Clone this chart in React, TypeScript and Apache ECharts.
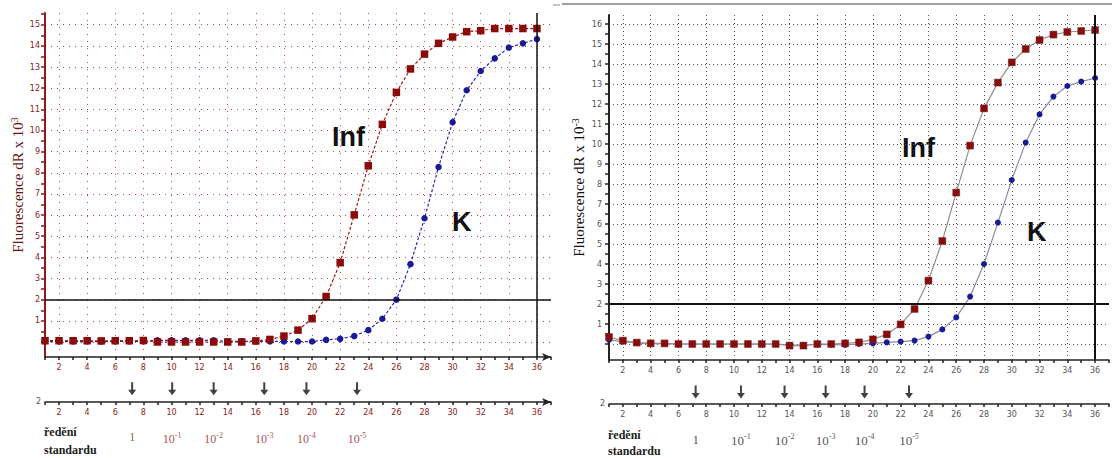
import React, { useEffect, useRef } from "react";
import * as echarts from "echarts";

// ---------- data ----------
const cycles = [1, 2, 3, 4, 5, 6, 7, 8, 9, 10, 11, 12, 13, 14, 15, 16, 17, 18, 19, 20, 21, 22, 23, 24, 25, 26, 27, 28, 29, 30, 31, 32, 33, 34, 35, 36];

const infLeft = [0.06, 0.06, 0.06, 0.06, 0.05, 0.06, 0.06, 0.07, 0, 0, 0, 0, 0, 0, 0, 0.05, 0.12, 0.28, 0.56, 1.1, 2.15, 3.75, 6.01, 8.33, 10.29, 11.8, 12.91, 13.61, 14.12, 14.42, 14.67, 14.72, 14.82, 14.82, 14.82, 14.82];
const kLeft = [0.02, 0.02, 0.02, 0.02, 0.02, 0.03, 0.03, 0.03, 0.08, 0.08, 0.08, 0.08, 0.08, 0.03, 0.03, 0.03, 0.03, 0.02, 0.02, 0.02, 0.1, 0.15, 0.28, 0.56, 1.1, 2.0, 3.68, 5.85, 8.27, 10.39, 11.9, 12.81, 13.41, 13.92, 14.12, 14.32];

const infRight = [0.35, 0.17, 0.07, 0.03, 0.03, 0, 0, 0, 0, 0, 0, 0, 0, -0.08, -0.08, 0, 0, 0.03, 0.08, 0.23, 0.48, 0.98, 1.75, 3.17, 5.15, 7.57, 9.92, 11.78, 13.07, 14.08, 14.75, 15.2, 15.47, 15.6, 15.65, 15.7];
const kRight = [0.2, 0.12, 0.06, 0.02, 0.02, 0, 0, 0, 0, 0, 0, 0, 0, -0.05, -0.05, -0.02, -0.03, -0.05, 0, 0.03, 0.08, 0.12, 0.17, 0.37, 0.73, 1.33, 2.37, 4.0, 6.07, 8.2, 10.07, 11.48, 12.37, 12.9, 13.12, 13.3];

const threshold = 2;
const endCycle = 36;

const dilutionLabels = ["1", "10{s|-1}", "10{s|-2}", "10{s|-3}", "10{s|-4}", "10{s|-5}"];
const dilutionCyclesLeft = [7.2, 10.05, 13.0, 16.6, 19.6, 23.2];
const dilutionCyclesRight = [7.24, 10.5, 13.64, 16.6, 19.4, 22.6];

const yLabelsLeft = [1, 2, 3, 4, 5, 6, 7, 8, 9, 10, 11, 12, 13, 14, 15];
const yLabelsRight = [1, 2, 3, 4, 5, 6, 7, 8, 9, 10, 11, 12, 13, 14, 15, 16];
const yGridLeft = [0, 1, 2, 3, 4, 5, 6, 7, 8, 9, 10, 11, 12, 13, 14, 15];
const yGridRight = [0, 1, 2, 3, 4, 5, 6, 7, 8, 9, 10, 11, 12, 13, 14, 15, 16];
const yHalfTicksLeft = [0, 0.5, 1, 1.5, 2, 2.5, 3, 3.5, 4, 4.5, 5, 5.5, 6, 6.5, 7, 7.5, 8, 8.5, 9, 9.5, 10, 10.5, 11, 11.5, 12, 12.5, 13, 13.5, 14, 14.5, 15, 15.5];
const yHalfTicksRight = [0, 0.5, 1, 1.5, 2, 2.5, 3, 3.5, 4, 4.5, 5, 5.5, 6, 6.5, 7, 7.5, 8, 8.5, 9, 9.5, 10, 10.5, 11, 11.5, 12, 12.5, 13, 13.5, 14, 14.5, 15, 15.5, 16];
const xGridCycles = [2, 4, 6, 8, 10, 12, 14, 16, 18, 20, 22, 24, 26, 28, 30, 32, 34, 36];

// ---------- styles ----------
const LRED = "#8b1a1a";
const INF_COLOR = "#8b0a0a";
const K_COLOR = "#1a1a96";
const ARROW = "path://M3,0 L5,0 L5,8 L8,8 L4,14 L0,8 L3,8 Z";

const pairs = (vals: number[]) => cycles.map((c, i) => [c, vals[i]]);

function mainX(grid: number, color: string, labelColor: string, arrow: boolean) {
  return {
    type: "value",
    gridIndex: grid,
    min: 1,
    max: 37,
    interval: 1,
    position: "bottom",
    axisLine: {
      show: true,
      onZero: false,
      lineStyle: { color, width: 1.5 },
      symbol: arrow ? ["none", "arrow"] : "none",
      symbolSize: [6, 9],
    },
    axisTick: { show: true, length: 3, lineStyle: { color, width: 1.5 } },
    axisLabel: {
      formatter: (v: number) => (v % 2 === 0 && v <= 36 ? String(v) : ""),
      color: labelColor,
      fontSize: 8,
      fontFamily: "DejaVu Sans",
      margin: 6,
    },
    splitLine: { show: false },
  };
}

function gridX(grid: number, color: string, type: any) {
  return {
    type: "value",
    gridIndex: grid,
    min: 1,
    max: 37,
    position: "bottom",
    axisLine: { show: false, onZero: false },
    axisTick: { show: false, customValues: xGridCycles },
    axisLabel: { show: false },
    splitLine: { show: true, lineStyle: { color, width: 1, type } },
  };
}

function gridY(grid: number, min: number, max: number, vals: number[], color: string, type: any) {
  return {
    type: "value",
    gridIndex: grid,
    min,
    max,
    position: "left",
    axisLine: { show: false, onZero: false },
    axisTick: { show: false, customValues: vals },
    axisLabel: { show: false },
    splitLine: { show: true, lineStyle: { color, width: 1, type } },
  };
}

function markLines(width: number) {
  return {
    silent: true,
    symbol: "none",
    animation: false,
    label: { show: false },
    lineStyle: { color: "#111", width, type: "solid" },
    data: [{ yAxis: threshold }, { xAxis: endCycle }],
  };
}

function arrowSeries(xi: number, yi: number, xs: number[], color: string, fontSize: number, distance: number) {
  return {
    type: "scatter",
    xAxisIndex: xi,
    yAxisIndex: yi,
    symbol: ARROW,
    symbolSize: [8, 13],
    itemStyle: { color: "#111" },
    data: xs.map((x) => [x, 0.6]),
    label: {
      show: true,
      position: "bottom",
      distance,
      formatter: (p: any) => dilutionLabels[p.dataIndex],
      fontFamily: "Liberation Serif",
      fontSize,
      color,
      rich: {
        s: { fontSize: 8, color, padding: [0, 0, 8, 0], fontFamily: "Liberation Serif" },
      },
    },
    labelLayout: { hideOverlap: false },
    silent: true,
  };
}

export default function App() {
  const ref = useRef<HTMLDivElement>(null);
  useEffect(() => {
    if (!ref.current) return;
    const chart = echarts.init(ref.current, null, { renderer: "svg" });
    const option: any = {
      animation: false,
      backgroundColor: "#ffffff",
      grid: [
        { left: 45, top: 13.1, width: 506, height: 343.9 },
        { left: 45, top: 380, width: 506, height: 22 },
        { left: 609, top: 15, width: 504, height: 345 },
        { left: 609, top: 384, width: 504, height: 20 },
      ],
      xAxis: [
        mainX(0, "#222", LRED, true),
        gridX(0, "#c44040", [1, 6]),
        mainX(1, "#222", LRED, true),
        mainX(2, "#222", "#555", false),
        gridX(2, "#555", [1, 3]),
        mainX(3, "#222", "#555", false),
      ],
      yAxis: [
        {
          type: "value",
          gridIndex: 0,
          min: -0.71,
          max: 15.55,
          position: "left",
          axisLine: { show: true, onZero: false, lineStyle: { color: LRED, width: 2 } },
          axisTick: { show: true, length: 4, customValues: yHalfTicksLeft, lineStyle: { color: LRED, width: 1.5 } },
          axisLabel: { customValues: yLabelsLeft, color: LRED, fontSize: 8, fontFamily: "DejaVu Sans", margin: 5 },
          splitLine: { show: false },
          name: "Fluorescence dR x 10{s|3}",
          nameLocation: "middle",
          nameGap: 18,
          nameRotate: 90,
          nameTextStyle: {
            color: "#6a1414",
            fontFamily: "Liberation Serif",
            fontSize: 15,
            rich: { s: { fontSize: 10, padding: [0, 0, 8, 0], color: "#6a1414", fontFamily: "Liberation Serif" } },
          },
        },
        gridY(0, -0.71, 15.55, yGridLeft, "#c44040", [1, 5]),
        { type: "value", gridIndex: 1, min: 0, max: 1, show: false },
        {
          type: "value",
          gridIndex: 2,
          min: -0.8,
          max: 16.45,
          position: "left",
          axisLine: { show: true, onZero: false, lineStyle: { color: "#222", width: 2 } },
          axisTick: { show: true, length: 4, customValues: yHalfTicksRight, lineStyle: { color: "#222", width: 1.5 } },
          axisLabel: { customValues: yLabelsRight, color: "#555", fontSize: 8, fontFamily: "DejaVu Sans", margin: 7 },
          splitLine: { show: false },
          name: "Fluorescence dR x 10{s|-3}",
          nameLocation: "middle",
          nameGap: 21,
          nameRotate: 90,
          nameTextStyle: {
            color: "#111",
            fontFamily: "Liberation Serif",
            fontSize: 15,
            rich: { s: { fontSize: 10, padding: [0, 0, 8, 0], color: "#111", fontFamily: "Liberation Serif" } },
          },
        },
        gridY(2, -0.8, 16.45, yGridRight, "#555", [1, 3]),
        { type: "value", gridIndex: 3, min: 0, max: 1, show: false },
      ],
      series: [
        {
          name: "K",
          type: "line",
          xAxisIndex: 0,
          yAxisIndex: 0,
          data: pairs(kLeft),
          symbol: "circle",
          symbolSize: 6.5,
          itemStyle: { color: K_COLOR },
          lineStyle: { color: "#2a2ab8", width: 1.2, type: [3, 2] },
        },
        {
          name: "Inf",
          type: "line",
          xAxisIndex: 0,
          yAxisIndex: 0,
          data: pairs(infLeft),
          symbol: "rect",
          symbolSize: 7.5,
          itemStyle: { color: INF_COLOR },
          lineStyle: { color: "#a01818", width: 1.2, type: [3, 2] },
          markLine: markLines(1.5),
        },
        arrowSeries(2, 2, dilutionCyclesLeft, "#8b2020", 12, 36),
        {
          name: "K",
          type: "line",
          xAxisIndex: 3,
          yAxisIndex: 3,
          data: pairs(kRight),
          symbol: "circle",
          symbolSize: 6,
          itemStyle: { color: K_COLOR },
          lineStyle: { color: "#8a8aa8", width: 1.2 },
        },
        {
          name: "Inf",
          type: "line",
          xAxisIndex: 3,
          yAxisIndex: 3,
          data: pairs(infRight),
          symbol: "rect",
          symbolSize: 7,
          itemStyle: { color: INF_COLOR, borderColor: "#6a3a3a", borderWidth: 0.5 },
          lineStyle: { color: "#9a8a8a", width: 1.2 },
          markLine: markLines(2),
        },
        arrowSeries(5, 5, dilutionCyclesRight, "#222", 13, 34),
      ],
      graphic: [
        { type: "line", shape: { x1: 562, y1: 4, x2: 1112, y2: 4 }, style: { stroke: "#a0a0a0", lineWidth: 2 } },
        { type: "line", shape: { x1: 553, y1: 5, x2: 560, y2: 5 }, style: { stroke: "#b0b0b0", lineWidth: 1.5 } },
        { type: "text", x: 332, y: 137, style: { text: "Inf", font: "bold 27px 'Liberation Sans', Arial", fill: "#111", verticalAlign: "middle" } },
        { type: "text", x: 452, y: 222, style: { text: "K", font: "bold 27px 'Liberation Sans', Arial", fill: "#111", verticalAlign: "middle" } },
        { type: "text", x: 902, y: 148, style: { text: "Inf", font: "bold 27px 'Liberation Sans', Arial", fill: "#111", verticalAlign: "middle" } },
        { type: "text", x: 1027, y: 232, style: { text: "K", font: "bold 27px 'Liberation Sans', Arial", fill: "#111", verticalAlign: "middle" } },
        { type: "text", x: 36, y: 401, style: { text: "2", font: "8px 'DejaVu Sans'", fill: "#555", verticalAlign: "middle" } },
        { type: "text", x: 600, y: 403, style: { text: "2", font: "8px 'DejaVu Sans'", fill: "#555", verticalAlign: "middle" } },
        { type: "text", x: 44, y: 432, style: { text: "ředění", font: "bold 12px 'Liberation Serif'", fill: "#222", verticalAlign: "middle" } },
        { type: "text", x: 44, y: 450, style: { text: "standardu", font: "bold 12px 'Liberation Serif'", fill: "#222", verticalAlign: "middle" } },
        { type: "text", x: 608, y: 435, style: { text: "ředění", font: "bold 12px 'Liberation Serif'", fill: "#222", verticalAlign: "middle" } },
        { type: "text", x: 608, y: 451, style: { text: "standardu", font: "bold 12px 'Liberation Serif'", fill: "#222", verticalAlign: "middle" } },
      ],
    };
    chart.setOption(option);
    return () => chart.dispose();
  }, []);
  return (
    <div
      ref={ref}
      style={{ position: "fixed", left: 0, top: 0, width: 1112, height: 458, background: "#fff" }}
    />
  );
}
